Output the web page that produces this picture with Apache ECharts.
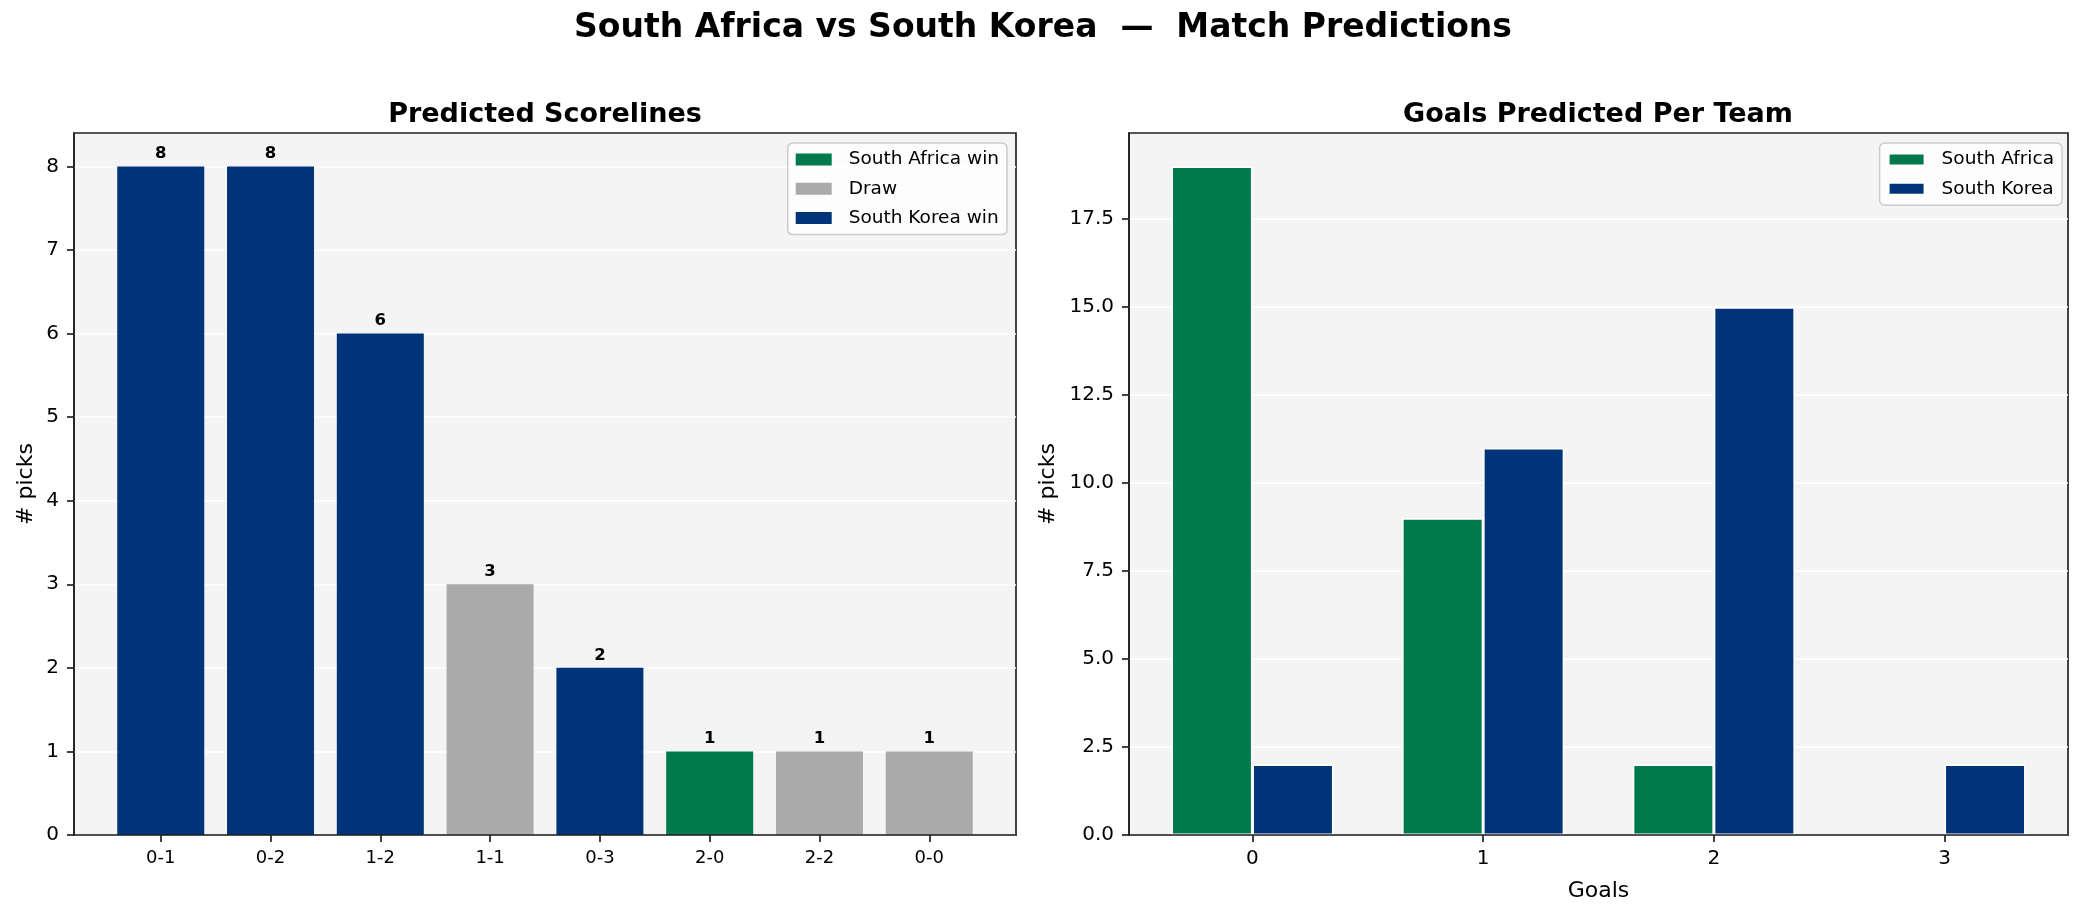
<!DOCTYPE html>
<html>
<head>
<meta charset="utf-8">
<script src="https://cdn.jsdelivr.net/npm/echarts@6/dist/echarts.min.js"></script>
<style>
  html, body { margin: 0; padding: 0; background: #fff; }
  #chart { width: 2086px; height: 916px; }
</style>
</head>
<body>
<div id="chart"></div>
<script>
// left panel: scorelines sorted by number of picks
var scorelines = ['0-1', '0-2', '1-2', '1-1', '0-3', '2-0', '2-2', '0-0'];
var scorePicks = [8, 8, 6, 3, 2, 1, 1, 1];
var scoreOutcome = ['SK', 'SK', 'SK', 'D', 'SK', 'SA', 'D', 'D'];
var outcomeKeys = ['SA', 'D', 'SK'];
var outcomeNames = ['South Africa win', 'Draw', 'South Korea win'];

// right panel: goals per team
var goals = ['0', '1', '2', '3'];
var goalsSouthAfrica = [19, 9, 2, 0];
var goalsSouthKorea = [2, 11, 15, 2];

var leftYTicks = [0, 1, 2, 3, 4, 5, 6, 7, 8];
var rightYTicks = [0, 2.5, 5, 7.5, 10, 12.5, 15, 17.5];

var GREEN = '#007A4D', GREY = '#AAAAAA', BLUE = '#003478';
var outcomeColors = { SA: GREEN, D: GREY, SK: BLUE };
var FONT = 'DejaVu Sans';
var INK = '#222';

function xAxisOf(grid, min, max, labels, fontSize, name) {
    var idx = labels.map(function (l, i) { return i; });
    return {
        type: 'value', gridIndex: grid, min: min, max: max, z: 10,
        name: name || '', nameLocation: 'middle', nameGap: 45,
        nameTextStyle: { fontFamily: FONT, fontSize: 22, color: '#000' },
        axisLine: { show: true, onZero: false, lineStyle: { color: INK, width: 1.7 } },
        axisTick: { show: true, length: 7, lineStyle: { color: INK, width: 1.7 }, customValues: idx },
        axisLabel: {
            customValues: idx, margin: 14, fontFamily: FONT, fontSize: fontSize, color: '#000',
            formatter: function (v) { return labels[Math.round(v)]; }
        },
        splitLine: { show: false }
    };
}

function yAxisOf(grid, max, interval, ticks, digits, nameGap) {
    return {
        type: 'value', gridIndex: grid, min: 0, max: max, interval: interval,
        name: '# picks', nameLocation: 'middle', nameGap: nameGap,
        nameTextStyle: { fontFamily: FONT, fontSize: 22, color: '#000' },
        axisLine: { show: true, onZero: false, lineStyle: { color: INK, width: 1.7 } },
        axisTick: { show: true, length: 7, lineStyle: { color: INK, width: 1.7 }, customValues: ticks },
        axisLabel: {
            customValues: ticks, margin: 15, fontFamily: FONT, fontSize: 20, color: '#000',
            formatter: function (v) { return v.toFixed(digits); }
        },
        splitLine: { show: true, lineStyle: { color: '#fff', width: 1.7 } }
    };
}

var series = [];
outcomeKeys.forEach(function (k, j) {
    var data = [];
    scorelines.forEach(function (s, i) {
        if (scoreOutcome[i] === k) data.push([i, scorePicks[i]]);
    });
    series.push({
        name: outcomeNames[j], type: 'bar', xAxisIndex: 0, yAxisIndex: 0,
        data: data, barWidth: 87, barGap: '-100%',
        itemStyle: { color: outcomeColors[k] },
        label: {
            show: true, position: 'top', distance: 4,
            fontFamily: FONT, fontWeight: 'bold', fontSize: 16.5, color: '#000'
        }
    });
});

function goalSeries(name, values, color) {
    return {
        name: name, type: 'bar', xAxisIndex: 1, yAxisIndex: 1,
        // a zero count draws no bar
        data: values.map(function (v, i) { return v > 0 ? [i, v] : [i, null]; }),
        barWidth: 81, barGap: '0%',
        itemStyle: { color: color, borderColor: '#fff', borderWidth: 1.5 }
    };
}
series.push(goalSeries('South Africa', goalsSouthAfrica, GREEN));
series.push(goalSeries('South Korea', goalsSouthKorea, BLUE));

var legendBase = {
    orient: 'vertical', top: 143, icon: 'rect',
    itemWidth: 36, itemHeight: 12, itemGap: 10.3,
    padding: [7, 8, 7, 8],
    backgroundColor: 'rgba(255,255,255,0.8)',
    borderColor: '#cccccc', borderWidth: 1.5, borderRadius: 5,
    textStyle: { fontFamily: FONT, fontSize: 18.5, color: '#000', lineHeight: 18, padding: [0, 0, 0, 12] }
};

var option = {
    backgroundColor: '#fff',
    animation: false,
    title: [
        { text: 'South Africa vs South Korea  —  Match Predictions', left: 'center', top: 12, padding: 0,
          textStyle: { fontFamily: FONT, fontWeight: 'bold', fontSize: 33, color: '#000' } },
        { text: 'Predicted Scorelines', left: 545, textAlign: 'center', top: 101, padding: 0,
          textStyle: { fontFamily: FONT, fontWeight: 'bold', fontSize: 27, color: '#000' } },
        { text: 'Goals Predicted Per Team', left: 1598, textAlign: 'center', top: 101, padding: 0,
          textStyle: { fontFamily: FONT, fontWeight: 'bold', fontSize: 27, color: '#000' } }
    ],
    legend: [
        Object.assign({}, legendBase, { right: 1079, data: outcomeNames }),
        Object.assign({}, legendBase, { right: 24, data: ['South Africa', 'South Korea'] })
    ],
    grid: [
        { left: 74, top: 133, width: 942, height: 702, show: true,
          backgroundColor: '#F4F4F4', borderColor: INK, borderWidth: 1.7 },
        { left: 1129, top: 133, width: 939, height: 702, show: true,
          backgroundColor: '#F4F4F4', borderColor: INK, borderWidth: 1.7 }
    ],
    xAxis: [
        xAxisOf(0, -0.79, 7.79, scorelines, 18),
        xAxisOf(1, -0.535, 3.535, goals, 20, 'Goals')
    ],
    yAxis: [
        yAxisOf(0, 8.4, 1, leftYTicks, 0, 37),
        yAxisOf(1, 19.95, 2.5, rightYTicks, 1, 70)
    ],
    series: series
};

var chart = echarts.init(document.getElementById('chart'), null, { renderer: 'canvas' });
chart.setOption(option);
</script>
</body>
</html>
